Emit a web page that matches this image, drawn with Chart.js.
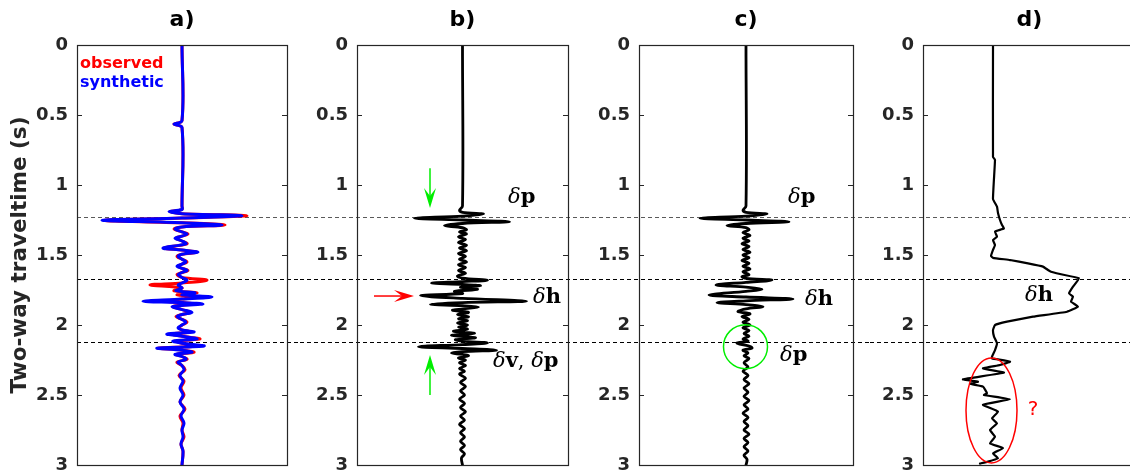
<!DOCTYPE html>
<html>
<head>
<meta charset="utf-8">
<script src="https://cdn.jsdelivr.net/npm/chart.js@4.4.1/dist/chart.umd.min.js"></script>
<style>
  html, body { margin: 0; padding: 0; background: #fff; overflow: hidden; width: 1130px; height: 473px; }
  canvas { position: absolute; top: 0; }
</style>
</head>
<body>
<canvas id="pa" width="300" height="490" style="left:0px"></canvas>
<canvas id="pb" width="285" height="490" style="left:300px"></canvas>
<canvas id="pc" width="285" height="490" style="left:585px"></canvas>
<canvas id="pd" width="275" height="490" style="left:870px"></canvas>
<script>
// ===== data (time in s, amplitudes in trace units) =====
const yTicks = [0, 0.5, 1, 1.5, 2, 2.5, 3];
const yTickLabels = ["0", "0.5", "1", "1.5", "2", "2.5", "3"];
const panelTitles = ["a)", "b)", "c)", "d)"];
const horizonTimes = [1.226, 1.674, 2.124];
const legendLabels = ["observed", "synthetic"];

// panel a: observed vs synthetic
const aTime = [
  0, 0.54, 0.565, 0.59, 1.15, 1.175, 1.19, 1.205, 1.219, 1.236,
  1.252, 1.27, 1.286, 1.30, 1.314, 1.335, 1.35, 1.365, 1.38, 1.40,
  1.42, 1.45, 1.465, 1.48, 1.495, 1.51, 1.53, 1.55, 1.565, 1.58,
  1.595, 1.61, 1.625, 1.64, 1.66, 1.68, 1.70, 1.714, 1.735, 1.755,
  1.77, 1.785, 1.80, 1.815, 1.83, 1.84, 1.85, 1.86, 1.87, 1.89,
  1.91, 1.925, 1.94, 1.96, 1.98, 2.00, 2.02, 2.035, 2.05, 2.065,
  2.08, 2.10, 2.115, 2.13, 2.15, 2.165, 2.18, 2.195, 2.21, 2.225,
  2.245, 2.265, 2.29, 2.32, 2.36, 2.40, 2.45, 2.50, 2.55, 2.60,
  2.65, 2.70, 2.75, 2.80, 2.85, 2.90, 3.0
];
const aSynthetic = [
  0, 0, -8, 0, 0, 0, -13, 0, 60, 0,
  -80, 0, 40, 0, -7, 0, 5, 0, -7, 0,
  4, -19, 0, 16, 0, -4, 0, 4, 0, -5,
  0, 5, 0, -4, 0, 5, 0, -4, 0, -6,
  13, 0, 30, 0, -39, 0, 21, 0, -10, 0,
  10, 0, -5, 0, 4, 0, -4, 0, 12, -15,
  0, 15, -9, 0, 22, -25, 0, 10, -7, 0,
  4, -4, 0, 2, -2, 1, -2, 1, -2, 2,
  -1, 2, 0, 1, -1, 1, 0
];
const aObserved = [
  0, 0, -8, 0, 0, 0, -12, 0, 65, 0,
  -78, 0, 43, 0, -8, 0, 6, 0, -6, 0,
  5, -18, 0, 15, 0, -5, 0, 5, 0, -4,
  0, 6, 0, -5, 0, 25, 0, -32, 0, -8,
  15, -5, 18, 0, -15, 0, 12, -4, -9, 0,
  8, 0, -6, 0, 5, 0, -3, 0, 8, -10,
  0, 18, -5, 0, 15, -24, 0, 12, -6, 0,
  5, -5, 0, 3, -3, 2, -1, 2, -2, 3,
  -2, 1, 0, 2, -1, 1, 0
];

// panel b: trace
const bTime = [
  0, 1.15, 1.18, 1.195, 1.207, 1.222, 1.238, 1.25, 1.262, 1.275,
  1.29, 1.305, 1.32, 1.335, 1.35, 1.37, 1.39, 1.41, 1.43, 1.45,
  1.47, 1.49, 1.51, 1.53, 1.55, 1.57, 1.59, 1.61, 1.63, 1.65,
  1.665, 1.68, 1.69, 1.70, 1.71, 1.72, 1.73, 1.745, 1.76, 1.775,
  1.79, 1.81, 1.83, 1.84, 1.852, 1.862, 1.872, 1.885, 1.895, 1.91,
  1.925, 1.94, 1.955, 1.97, 1.985, 2.00, 2.015, 2.03, 2.045, 2.06,
  2.075, 2.09, 2.105, 2.115, 2.128, 2.14, 2.155, 2.168, 2.18, 2.19,
  2.20, 2.21, 2.22, 2.235, 2.25, 2.27, 2.29, 2.31, 2.33, 2.35,
  2.38, 2.41, 2.44, 2.47, 2.50, 2.53, 2.56, 2.59, 2.62, 2.65,
  2.68, 2.71, 2.74, 2.77, 2.80, 2.83, 2.86, 2.89, 2.92, 2.95,
  3.0
];
const bTrace = [
  0, 0, -3, 0, 21, 0, -48, 0, 47, 0,
  -18, 0, 4, -3, 4, -4, 3, -4, 4, -3,
  4, -4, 3, -3, 4, -4, 3, -4, 3, -5,
  0, 25, 0, -31, 0, 18, -2, 15, -8, 0,
  -42, 0, 64, 0, -32, 0, 16, 0, -10, 6,
  -5, 6, -4, 5, -5, 5, -4, 5, -9, 12,
  -11, 13, -7, 0, 25, 0, -44, 0, 34, 0,
  -11, 0, 6, -4, 3, -3, 3, -3, 2, -3,
  3, -2, 3, -2, 2, -3, 2, -2, 3, -2,
  2, -3, 2, -2, 2, -2, 2, -2, 2, -1,
  0
];

// panel c: trace
const cTime = [
  0, 1.15, 1.18, 1.195, 1.207, 1.222, 1.238, 1.25, 1.262, 1.275,
  1.29, 1.305, 1.32, 1.34, 1.36, 1.38, 1.40, 1.42, 1.44, 1.46,
  1.48, 1.50, 1.52, 1.54, 1.56, 1.58, 1.60, 1.62, 1.64, 1.655,
  1.667, 1.679, 1.695, 1.714, 1.73, 1.745, 1.76, 1.786, 1.80, 1.814,
  1.827, 1.84, 1.855, 1.87, 1.885, 1.905, 1.92, 1.94, 1.96, 1.98,
  2.00, 2.02, 2.04, 2.06, 2.08, 2.10, 2.115, 2.13, 2.15, 2.165,
  2.18, 2.20, 2.22, 2.24, 2.27, 2.30, 2.33, 2.36, 2.39, 2.42,
  2.45, 2.48, 2.51, 2.54, 2.57, 2.60, 2.63, 2.66, 2.69, 2.72,
  2.75, 2.78, 2.81, 2.84, 2.87, 2.90, 2.93, 2.96, 3.0
];
const cTrace = [
  0, 0, -3, 0, 21, 0, -46, 0, 43, 0,
  -19, 0, 3, -3, 4, -3, 3, -4, 3, -3,
  4, -3, 3, -4, 3, -3, 4, -3, 3, -4,
  0, 26, 0, -30, 0, 16, 0, -37, 0, 47,
  0, -29, 0, 17, 0, -8, 4, -4, 3, -3,
  4, -3, 3, -2, 3, -3, 2, -9, 3, 6,
  -3, 2, -2, 3, -2, 2, -3, 2, -2, 3,
  -2, 2, -2, 3, -2, 2, -3, 2, -2, 2,
  -2, 3, -2, 2, -2, 2, -2, 1, 0
];

// panel d: profile
const dTime = [
  0, 0.80, 0.82, 1.10, 1.155, 1.20, 1.25, 1.286, 1.31, 1.333,
  1.369, 1.393, 1.429, 1.464, 1.507, 1.52, 1.536, 1.56, 1.583, 1.607,
  1.62, 1.636, 1.667, 1.726, 1.774, 1.798, 1.833, 1.869, 1.905, 1.94,
  1.976, 2.0, 2.036, 2.083, 2.131, 2.179, 2.226, 2.238, 2.262, 2.286,
  2.31, 2.34, 2.388, 2.405, 2.42, 2.44, 2.488, 2.5, 2.53, 2.57,
  2.619, 2.667, 2.702, 2.75, 2.798, 2.845, 2.88, 2.917, 2.952, 2.976,
  2.99
];
const dTrace = [
  70, 70, 72, 70, 74, 75, 77, 79, 81, 72,
  74, 70, 72, 70, 68, 70, 87, 105, 120, 125,
  128, 137, 156, 150, 146, 150, 148, 155, 144, 110,
  84, 72, 70, 71, 74, 72, 69, 69, 87, 77,
  60, 81, 40, 55, 47, 60, 64, 61, 87, 60,
  75, 69, 74, 67, 72, 67, 80, 70, 75, 65,
  57
];

// ===== styles =====
const AX = "#262626";
const FONT = "DejaVu Sans";
const MATH = "DejaVu Serif";
const HORIZON_COLORS = ["#5a5a5a", "#000", "#000"];
const GREEN = "#00ee00";
const RED = "#ff0000";

Chart.defaults.font.family = FONT;

const pts = (time, amp) => time.map((t, i) => ({ x: amp[i], y: t }));

// ===== helpers =====
function horizonPlugin(fromArea) {
  return {
    id: "horizons",
    beforeDatasetsDraw(c) {
      const { ctx, chartArea: a, scales: { y } } = c;
      ctx.save();
      ctx.setLineDash([4, 3]);
      ctx.lineWidth = 1;
      horizonTimes.forEach((t, i) => {
        const py = Math.round(y.getPixelForValue(t)) + 0.5;
        ctx.strokeStyle = HORIZON_COLORS[i];
        ctx.beginPath();
        ctx.moveTo(fromArea ? a.left : 0, py);
        ctx.lineTo(c.width, py);
        ctx.stroke();
      });
      ctx.restore();
    },
  };
}

const framePlugin = {
  id: "frame",
  afterDatasetsDraw(c) {
    const { ctx, chartArea: a, scales: { y } } = c;
    ctx.save();
    ctx.strokeStyle = AX;
    ctx.lineWidth = 1.2;
    ctx.strokeRect(a.left + 0.5, a.top + 0.5, a.right - a.left, a.bottom - a.top);
    ctx.beginPath();
    yTicks.forEach((v) => {
      const py = Math.round(y.getPixelForValue(v)) + 0.5;
      ctx.moveTo(a.left, py); ctx.lineTo(a.left + 5, py);
      ctx.moveTo(a.right, py); ctx.lineTo(a.right - 5, py);
    });
    ctx.stroke();
    ctx.restore();
  },
};

function mathText(c, xv, tv, parts) {
  const { ctx, scales: { x, y } } = c;
  let px = x.getPixelForValue(xv);
  const py = y.getPixelForValue(tv);
  ctx.save();
  ctx.fillStyle = "#000";
  ctx.textBaseline = "middle";
  ctx.textAlign = "left";
  parts.forEach(([s, style]) => {
    ctx.font = (style === "i" ? "italic " : style === "b" ? "bold " : "") + `21px "${MATH}"`;
    ctx.fillText(s, px, py);
    px += ctx.measureText(s).width;
  });
  ctx.restore();
}

function arrow(c, x0v, t0, x1v, t1, color) {
  const { ctx, scales: { x, y } } = c;
  const x0 = x.getPixelForValue(x0v), y0 = y.getPixelForValue(t0);
  const x1 = x.getPixelForValue(x1v), y1 = y.getPixelForValue(t1);
  const ang = Math.atan2(y1 - y0, x1 - x0);
  const hl = 20, hw = 12;
  ctx.save();
  ctx.strokeStyle = color; ctx.fillStyle = color; ctx.lineWidth = 1.5;
  ctx.beginPath();
  ctx.moveTo(x0, y0);
  ctx.lineTo(x1 - Math.cos(ang) * hl * 0.6, y1 - Math.sin(ang) * hl * 0.6);
  ctx.stroke();
  ctx.translate(x1, y1); ctx.rotate(ang);
  ctx.beginPath();
  ctx.moveTo(0, 0); ctx.lineTo(-hl, -hw / 2); ctx.lineTo(-hl * 0.6, 0); ctx.lineTo(-hl, hw / 2);
  ctx.closePath(); ctx.fill();
  ctx.restore();
}

function panel(id, o) {
  const canvas = document.getElementById(id);
  return new Chart(canvas, {
    type: "scatter",
    data: { datasets: o.datasets },
    options: {
      responsive: false,
      animation: false,
      events: [],
      layout: { padding: { top: 45, bottom: canvas.height - 465, left: 0, right: o.padRight } },
      scales: {
        x: { type: "linear", min: o.xMin, max: o.xMax, display: false },
        y: {
          type: "linear", reverse: true, min: 0, max: 3,
          afterBuildTicks: (s) => { s.ticks = yTicks.map((v) => ({ value: v })); },
          afterFit: (s) => { s.width = o.axisWidth; },
          grid: { display: false, drawTicks: false },
          border: { display: false },
          ticks: {
            autoSkip: false, padding: 9, color: AX,
            font: { family: FONT, size: 18, weight: "bold" },
            callback: (v, i) => yTickLabels[i],
          },
          title: o.yTitle
            ? { display: true, text: o.yTitle, color: AX, font: { family: FONT, size: 21.5, weight: "bold" }, padding: { top: 8, bottom: 0 } }
            : { display: false },
        },
      },
      plugins: { legend: { display: false }, tooltip: { enabled: false } },
    },
    plugins: [
      horizonPlugin(o.dashFromArea),
      framePlugin,
      {
        id: "notes",
        afterDraw(c) {
          const { ctx, chartArea: a } = c;
          ctx.save();
          ctx.fillStyle = "#000";
          ctx.font = `bold 22px "${FONT}"`;
          ctx.textAlign = "center";
          ctx.textBaseline = "middle";
          ctx.fillText(o.title, (a.left + a.right) / 2, 20);
          ctx.restore();
          if (o.notes) o.notes(c);
        },
      },
    ],
  });
}

const line = (data, color, width, tension) => ({
  data, showLine: true, borderColor: color, backgroundColor: color,
  borderWidth: width, pointRadius: 0, tension, borderJoinStyle: "round", borderCapStyle: "round",
});

// ===== panels =====
panel("pa", {
  title: panelTitles[0], axisWidth: 77, padRight: 13, xMin: -105, xMax: 105, dashFromArea: true,
  yTitle: "Two-way traveltime (s)",
  datasets: [
    line(pts(aTime, aSynthetic), "#0000ff", 3, 0.35),
    line(pts(aTime, aObserved), "#ff0000", 3, 0.35),
  ],
  notes(c) {
    const { ctx, scales: { x, y } } = c;
    ctx.save();
    ctx.font = `bold 16px "${FONT}"`;
    ctx.textAlign = "left";
    ctx.textBaseline = "alphabetic";
    ctx.fillStyle = RED;
    ctx.fillText(legendLabels[0], x.getPixelForValue(-102), y.getPixelForValue(0.164));
    ctx.fillStyle = "#0000ff";
    ctx.fillText(legendLabels[1], x.getPixelForValue(-102), y.getPixelForValue(0.3));
    ctx.restore();
  },
});

panel("pb", {
  title: panelTitles[1], axisWidth: 57, padRight: 17, xMin: -105.5, xMax: 105.5,
  datasets: [line(pts(bTime, bTrace), "#000", 2.8, 0.35)],
  notes(c) {
    arrow(c, -32.5, 0.88, -32.5, 1.165, GREEN);
    arrow(c, -32.5, 2.5, -32.5, 2.214, GREEN);
    arrow(c, -88.5, 1.793, -48.5, 1.793, RED);
    mathText(c, 45.5, 1.093, [["δ", "i"], ["p", "b"]]);
    mathText(c, 70.5, 1.807, [["δ", "i"], ["h", "b"]]);
    mathText(c, 30.5, 2.264, [["δ", "i"], ["v", "b"], [", ", "r"], ["δ", "i"], ["p", "b"]]);
  },
});

panel("pc", {
  title: panelTitles[2], axisWidth: 54, padRight: 17, xMin: -107, xMax: 107,
  datasets: [line(pts(cTime, cTrace), "#000", 2.8, 0.35)],
  notes(c) {
    const { ctx, scales: { x, y } } = c;
    ctx.save();
    ctx.strokeStyle = GREEN; ctx.lineWidth = 1.5;
    ctx.beginPath();
    ctx.arc(x.getPixelForValue(-0.5), y.getPixelForValue(2.155), x.getPixelForValue(22) - x.getPixelForValue(0), 0, Math.PI * 2);
    ctx.stroke();
    ctx.restore();
    mathText(c, 42, 1.093, [["δ", "i"], ["p", "b"]]);
    mathText(c, 59, 1.82, [["δ", "i"], ["h", "b"]]);
    mathText(c, 34, 2.22, [["δ", "i"], ["p", "b"]]);
  },
});

panel("pd", {
  title: panelTitles[3], axisWidth: 53, padRight: 9, xMin: 0, xMax: 213,
  datasets: [line(pts(dTime, dTrace), "#000", 2.2, 0.1)],
  notes(c) {
    const { ctx, scales: { x, y } } = c;
    mathText(c, 102, 1.793, [["δ", "i"], ["h", "b"]]);
    const cx = x.getPixelForValue(68.5), cy = y.getPixelForValue(2.61);
    const rx = x.getPixelForValue(25.5) - x.getPixelForValue(0);
    const ry = cy - y.getPixelForValue(2.235);
    ctx.save();
    ctx.strokeStyle = RED; ctx.lineWidth = 1.5;
    ctx.beginPath();
    ctx.ellipse(cx, cy, rx, ry, 0, 0, Math.PI * 2);
    ctx.stroke();
    ctx.fillStyle = RED;
    ctx.font = `20px "${FONT}"`;
    ctx.textAlign = "center";
    ctx.textBaseline = "middle";
    ctx.fillText("?", x.getPixelForValue(110), y.getPixelForValue(2.607));
    ctx.restore();
  },
});
</script>
</body>
</html>
